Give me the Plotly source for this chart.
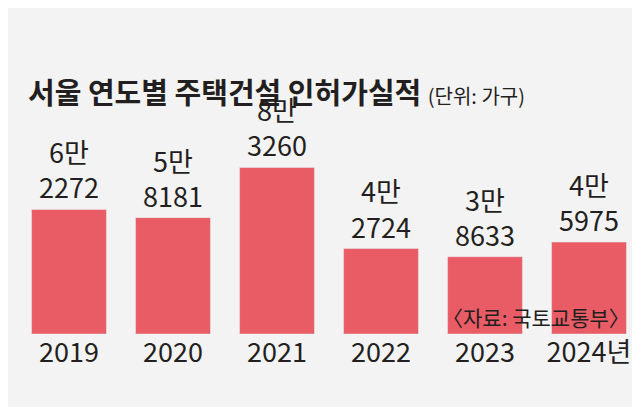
import plotly.graph_objects as go

years = ["2019", "2020", "2021", "2022", "2023", "2024년"]
values = [62272, 58181, 83260, 42724, 38633, 45975]
labels = ["6만<br>2272", "5만<br>8181", "8만<br>3260", "4만<br>2724", "3만<br>8633", "4만<br>5975"]

narrow = "Liberation Sans Narrow, Noto Sans CJK KR"

fig = go.Figure(go.Bar(
    x=years, y=values, text=labels, textposition="outside",
    marker_color="#e95c66", cliponaxis=False,
    textfont=dict(size=27, color="#231f20", family=narrow),
))
fig.update_layout(
    width=640, height=407,
    margin=dict(l=9, r=7, t=60, b=81),
    paper_bgcolor="#f3f3f3", plot_bgcolor="#f3f3f3",
    bargap=0.28, showlegend=False,
    uniformtext=dict(minsize=10),
)
fig.update_xaxes(showline=False, ticks="", tickfont=dict(size=27, color="#231f20", family=narrow))
fig.update_yaxes(visible=False, range=[0, 133000])
fig.add_annotation(x=0.015, y=1.0, xref="paper", yref="paper", xanchor="left", yanchor="top",
                   showarrow=False,
                   text="<b>서울 연도별 주택건설 인허가실적</b> <span style='font-size:20px'>(단위: 가구)</span>",
                   font=dict(size=29, color="#231f20", family="Noto Sans CJK KR"))
fig.add_annotation(x=0.985, y=0.0, xref="paper", yref="paper", xanchor="right", yanchor="bottom",
                   showarrow=False, text="〈자료: 국토교통부〉",
                   font=dict(size=21, color="#231f20", family="Noto Sans CJK KR"))
fig.write_html("out.html")
